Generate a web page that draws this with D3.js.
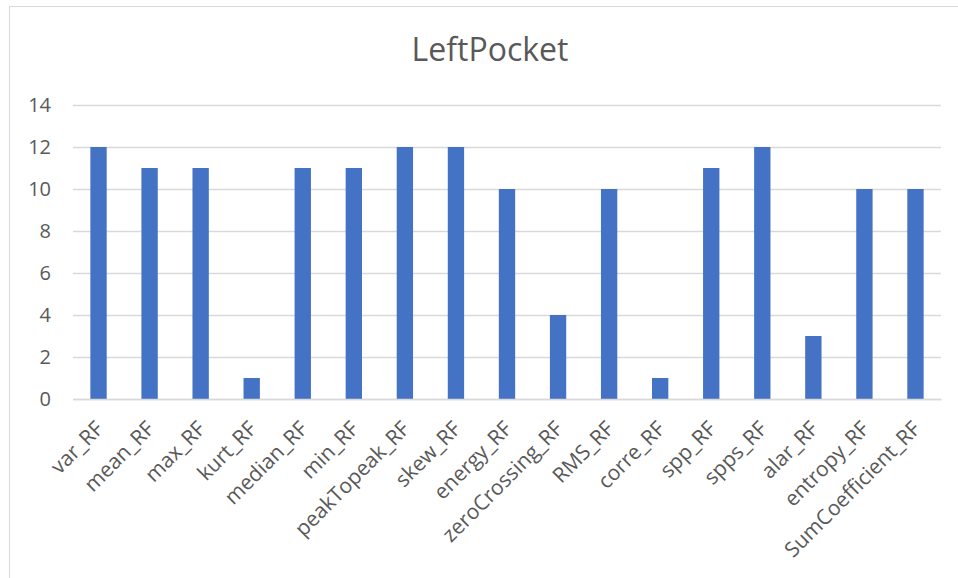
<!DOCTYPE html>
<html>
<head>
<meta charset="utf-8">
<script src="https://cdn.jsdelivr.net/npm/d3@7"></script>
<style>
  body { margin: 0; background: #fff; }
  text { font-family: "Open Sans", "Noto Sans", sans-serif; fill: #595959; }
</style>
</head>
<body>
<div id="container"></div>
<script>
const categories = ["var_RF", "mean_RF", "max_RF", "kurt_RF", "median_RF", "min_RF", "peakTopeak_RF", "skew_RF", "energy_RF", "zeroCrossing_RF", "RMS_RF", "corre_RF", "spp_RF", "spps_RF", "alar_RF", "entropy_RF", "SumCoefficient_RF"]
const values = [12, 11, 11, 1, 11, 11, 12, 12, 10, 4, 10, 1, 11, 12, 3, 10, 10]
const yTicks = [0, 2, 4, 6, 8, 10, 12, 14]

const width = 958
const height = 578
const marginTop = 105
const marginRight = 17
const marginBottom = 179
const marginLeft = 73

const svg = d3.create("svg")
    .attr("width", width)
    .attr("height", height)

// chart border (only top and left show in the picture)
svg.append("rect")
    .attr("x", 9.5)
    .attr("y", 6.5)
    .attr("width", width + 20)
    .attr("height", height + 20)
    .attr("fill", "none")
    .attr("stroke", "#d9d9d9")

const x = d3.scaleBand()
    .domain(categories)
    .range([marginLeft, width - marginRight])
    .paddingInner(0.68)
    .paddingOuter(0.34)

const y = d3.scaleLinear()
    .domain([0, 14])
    .range([height - marginBottom, marginTop])

svg.append("text")
    .attr("x", 490)
    .attr("y", 61)
    .attr("text-anchor", "middle")
    .style("font-size", "32px")
    .text("LeftPocket")

const yAxis = svg.append("g")
    .attr("transform", `translate(${marginLeft},0)`)
    .call(d3.axisLeft(y).tickValues(yTicks).tickSize(-(width - marginRight - marginLeft)).tickPadding(22))
yAxis.select(".domain").remove()
yAxis.selectAll(".tick line").attr("stroke", "#d9d9d9").attr("stroke-width", 1.3)
yAxis.selectAll(".tick text").style("font-size", "20px").attr("fill", "#595959")

svg.selectAll(".bar")
    .data(values)
    .enter().append("rect")
    .attr("class", "bar")
    .attr("x", (d, i) => x(categories[i]))
    .attr("y", d => y(d))
    .attr("width", x.bandwidth())
    .attr("height", d => y(0) - y(d))
    .attr("fill", "#4472c4")

const xAxis = svg.append("g")
    .attr("transform", `translate(0,${height - marginBottom})`)
    .call(d3.axisBottom(x).tickSize(0))
xAxis.select(".domain").attr("stroke", "#d9d9d9").attr("stroke-width", 1.3)
xAxis.selectAll(".tick text")
    .style("font-size", "21px")
    .attr("fill", "#595959")
    .attr("text-anchor", "end")
    .attr("dy", "0")
    .attr("transform", "translate(4,29) rotate(-45)")

document.querySelector("#container").appendChild(svg.node())
</script>
</body>
</html>
